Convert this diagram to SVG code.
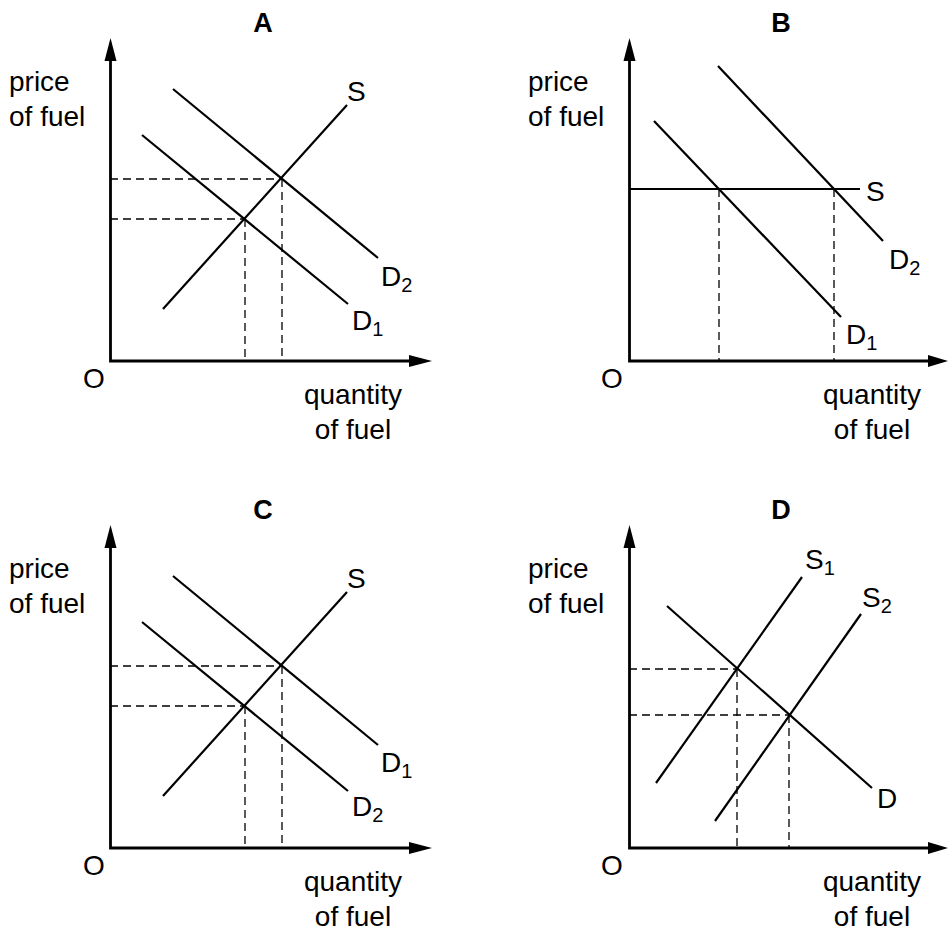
<svg xmlns="http://www.w3.org/2000/svg" width="949" height="933" viewBox="0 0 949 933">
<style>
text{font-family:"Liberation Sans",Arial,sans-serif;fill:#000}
.t{font-size:27px;font-weight:bold;text-anchor:middle}
.l{font-size:28px}
.m{font-size:28px;text-anchor:middle}
.s{font-size:20px}
.ax{stroke:#000;stroke-width:2.8;fill:none}
.cv{stroke:#000;stroke-width:2.2;fill:none}
.ds{stroke:#000;stroke-width:1.3;stroke-dasharray:8 5;fill:none}
.ah{fill:#000}
</style>
<rect width="949" height="933" fill="#fff"/>

<g id="panelA">
<text class="t" x="263" y="32">A</text>
<text class="l" x="9" y="91">price</text>
<text class="l" x="9" y="126">of fuel</text>
<text class="m" x="94" y="388">O</text>
<text class="m" x="353" y="404">quantity</text>
<text class="m" x="353" y="439">of fuel</text>
<g id="axesA">
<path class="ax" d="M110.5 58 V361 H412"/>
<path class="ah" d="M110.5 38 L104.5 61 L116.5 61 Z"/>
<path class="ah" d="M432 361 L409 355 L409 367 Z"/>
</g>
<g id="linesA">
<line class="ds" x1="110" y1="179" x2="282" y2="179"/>
<line class="ds" x1="110" y1="219" x2="245" y2="219"/>
<line class="ds" x1="282" y1="179" x2="282" y2="361"/>
<line class="ds" x1="245" y1="219" x2="245" y2="361"/>
<line class="cv" x1="163" y1="309" x2="347" y2="105"/>
<line class="cv" x1="173" y1="89" x2="378" y2="258"/>
<line class="cv" x1="142" y1="135" x2="348" y2="304"/>
</g>
<text class="l" x="347" y="101">S</text>
<text class="l" x="381" y="286">D<tspan class="s" dy="6">2</tspan></text>
<text class="l" x="352" y="330">D<tspan class="s" dy="6">1</tspan></text>
</g>

<g id="panelB">
<text class="t" x="781" y="32">B</text>
<text class="l" x="528" y="91">price</text>
<text class="l" x="528" y="126">of fuel</text>
<text class="m" x="612" y="388">O</text>
<text class="m" x="872" y="404">quantity</text>
<text class="m" x="872" y="439">of fuel</text>
<g id="axesB">
<path class="ax" d="M629.5 58 V361 H928"/>
<path class="ah" d="M629.5 38 L623.5 61 L635.5 61 Z"/>
<path class="ah" d="M948 361 L928 355 L928 367 Z"/>
</g>
<g id="linesB">
<line class="ds" x1="719" y1="189" x2="719" y2="361"/>
<line class="ds" x1="834" y1="189" x2="834" y2="361"/>
<line class="cv" x1="629" y1="189" x2="860" y2="189"/>
<line class="cv" x1="654" y1="121" x2="841" y2="317"/>
<line class="cv" x1="718" y1="66" x2="883" y2="241"/>
</g>
<text class="l" x="866" y="201">S</text>
<text class="l" x="889" y="269">D<tspan class="s" dy="6">2</tspan></text>
<text class="l" x="846" y="344">D<tspan class="s" dy="6">1</tspan></text>
</g>

<g id="panelC">
<text class="t" x="263" y="519">C</text>
<text class="l" x="9" y="578">price</text>
<text class="l" x="9" y="613">of fuel</text>
<text class="m" x="94" y="875">O</text>
<text class="m" x="353" y="891">quantity</text>
<text class="m" x="353" y="926">of fuel</text>
<g id="axesC">
<path class="ax" d="M110.5 545 V848 H412"/>
<path class="ah" d="M110.5 525 L104.5 548 L116.5 548 Z"/>
<path class="ah" d="M432 848 L409 842 L409 854 Z"/>
</g>
<g id="linesC">
<line class="ds" x1="110" y1="666" x2="282" y2="666"/>
<line class="ds" x1="110" y1="706" x2="245" y2="706"/>
<line class="ds" x1="282" y1="666" x2="282" y2="848"/>
<line class="ds" x1="245" y1="706" x2="245" y2="848"/>
<line class="cv" x1="163" y1="796" x2="347" y2="592"/>
<line class="cv" x1="173" y1="576" x2="378" y2="745"/>
<line class="cv" x1="142" y1="622" x2="348" y2="791"/>
</g>
<text class="l" x="347" y="588">S</text>
<text class="l" x="381" y="772">D<tspan class="s" dy="6">1</tspan></text>
<text class="l" x="352" y="816">D<tspan class="s" dy="6">2</tspan></text>
</g>

<g id="panelD">
<text class="t" x="781" y="519">D</text>
<text class="l" x="528" y="578">price</text>
<text class="l" x="528" y="613">of fuel</text>
<text class="m" x="612" y="875">O</text>
<text class="m" x="872" y="891">quantity</text>
<text class="m" x="872" y="926">of fuel</text>
<g id="axesD">
<path class="ax" d="M629.5 545 V848 H928"/>
<path class="ah" d="M629.5 525 L623.5 548 L635.5 548 Z"/>
<path class="ah" d="M948 848 L928 842 L928 854 Z"/>
</g>
<g id="linesD">
<line class="ds" x1="629" y1="669" x2="737" y2="669"/>
<line class="ds" x1="629" y1="715" x2="789" y2="715"/>
<line class="ds" x1="737" y1="669" x2="737" y2="848"/>
<line class="ds" x1="789" y1="715" x2="789" y2="848"/>
<line class="cv" x1="667" y1="606" x2="872" y2="788"/>
<line class="cv" x1="656" y1="783" x2="802" y2="577"/>
<line class="cv" x1="715" y1="821" x2="861" y2="614"/>
</g>
<text class="l" x="805" y="569">S<tspan class="s" dy="6">1</tspan></text>
<text class="l" x="862" y="607">S<tspan class="s" dy="6">2</tspan></text>
<text class="l" x="877" y="808">D</text>
</g>
</svg>
